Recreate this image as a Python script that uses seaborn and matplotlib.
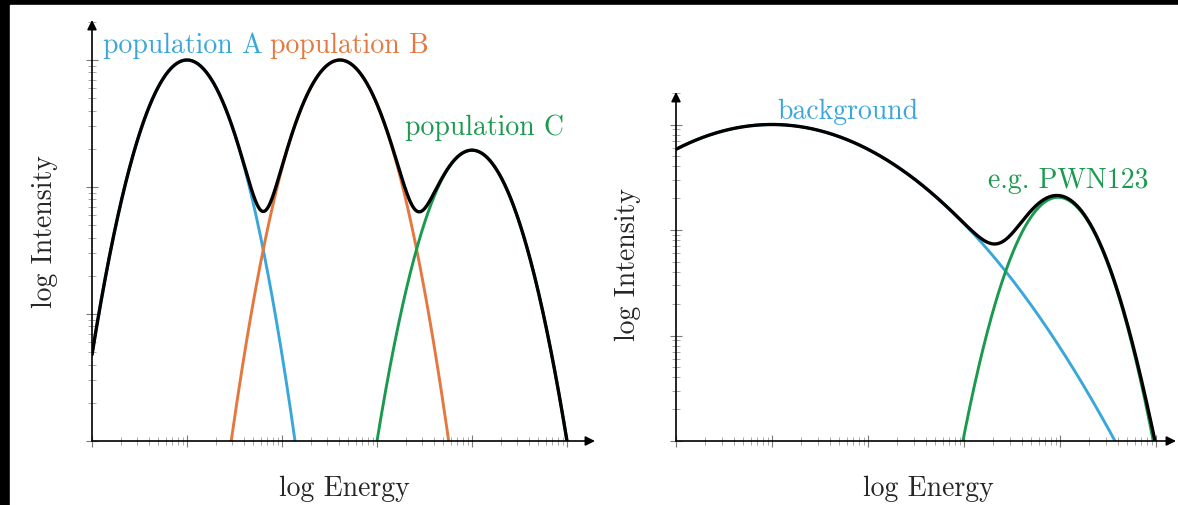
import numpy as np
import pandas as pd
import matplotlib.pyplot as plt
import seaborn as sns
from matplotlib.patches import Rectangle
from matplotlib.ticker import LogLocator, NullFormatter

# log-parabola components (peak log energy, peak log intensity, curvature)
left_names = ["population A", "population B", "population C"]
left_peak_logE = [1.0, 2.61, 4.0]
left_peak_logI = [3.0, 3.0, 2.29]
left_curv = [2.32, 2.29, 2.29]
left_colors = ["#3aa7da", "#e4783f", "#1a9a4e"]
left_label_pos = [(0.12, 3.055), (1.87, 3.055), (3.29, 2.41)]

right_names = ["background", "e.g. PWN123"]
right_peak_logE = [1.0, 3.98]
right_peak_logI = [3.0, 2.31]
right_curv = [0.235, 2.35]
right_colors = ["#3aa7da", "#1a9a4e"]
right_label_pos = [(1.05, 3.05), (3.25, 2.40)]

sns.set_style("white")
plt.rcParams["font.family"] = ["cmr10", "DejaVu Serif"]

fig = plt.figure(figsize=(11.78, 5.05), dpi=100)
fig.patch.set_facecolor("black")
fig.add_artist(Rectangle((10 / 1178, 0), 1 - 10 / 1178, 1 - 5 / 505,
                         transform=fig.transFigure, color="white", zorder=-5))

ax1 = fig.add_axes([92 / 1178, 64 / 505, 503 / 1178, 421 / 505])
ax2 = fig.add_axes([676 / 1178, 64 / 505, 500 / 1178, 349 / 505])


def draw_panel(ax, peaks_e, peaks_i, curv, colors, names, label_pos, xmax, ymax):
    logE = np.linspace(0, xmax, 1200)
    E = 10 ** logE
    total = np.zeros_like(E)
    for pe, pi, c, col in zip(peaks_e, peaks_i, curv, colors):
        I = 10 ** (pi - c * (logE - pe) ** 2)
        total += I
        df = pd.DataFrame({"E": E, "I": I})
        sns.lineplot(data=df, x="E", y="I", color=col, lw=2.1, ax=ax)
    sns.lineplot(x=E, y=total, color="black", lw=2.4, ax=ax)

    ax.set_xscale("log")
    ax.set_yscale("log")
    ax.set_xlim(1, 10 ** xmax)
    ax.set_ylim(1, 10 ** ymax)
    ax.set_facecolor("none")
    for s in ax.spines.values():
        s.set_visible(False)

    for a in (ax.xaxis, ax.yaxis):
        a.set_major_locator(LogLocator(base=10, numticks=20))
        a.set_minor_locator(LogLocator(base=10, subs=np.arange(2, 10), numticks=20))
        a.set_major_formatter(NullFormatter())
        a.set_minor_formatter(NullFormatter())
    ax.tick_params(which="both", bottom=True, left=True, top=False, right=False)
    ax.tick_params(which="major", direction="inout", length=9, width=0.8, color="#7a7a7a")
    ax.tick_params(which="minor", direction="inout", length=6, width=0.6, color="#9a9a9a")
    ax.set_xlabel("")
    ax.set_ylabel("")

    arrow = dict(arrowstyle="-|>", color="black", lw=1.2, mutation_scale=14,
                 shrinkA=0, shrinkB=0)
    ax.annotate("", xy=(1, 0), xytext=(0, 0), xycoords="axes fraction",
                arrowprops=arrow, annotation_clip=False)
    ax.annotate("", xy=(0, 1), xytext=(0, 0), xycoords="axes fraction",
                arrowprops=arrow, annotation_clip=False)

    for name, (lx, ly), col in zip(names, label_pos, colors):
        ax.text(10 ** lx, 10 ** ly, name, color=col, fontsize=20,
                ha="left", va="baseline")


draw_panel(ax1, left_peak_logE, left_peak_logI, left_curv, left_colors,
           left_names, left_label_pos, 503 / 95, 421 / 127)
draw_panel(ax2, right_peak_logE, right_peak_logI, right_curv, right_colors,
           right_names, right_label_pos, 500 / 96, 349 / 105.5)

fig.text(344 / 1178, 1 - 489 / 505, "log Energy", fontsize=20,
         ha="center", va="center")
fig.text(928 / 1178, 1 - 489 / 505, "log Energy", fontsize=20,
         ha="center", va="center")
fig.text(45 / 1178, 1 - 232 / 505, "log Intensity", fontsize=20,
         ha="center", va="center", rotation=90)
fig.text(628 / 1178, 1 - 265 / 505, "log Intensity", fontsize=20,
         ha="center", va="center", rotation=90)

fig.savefig("out.png", dpi=100)
